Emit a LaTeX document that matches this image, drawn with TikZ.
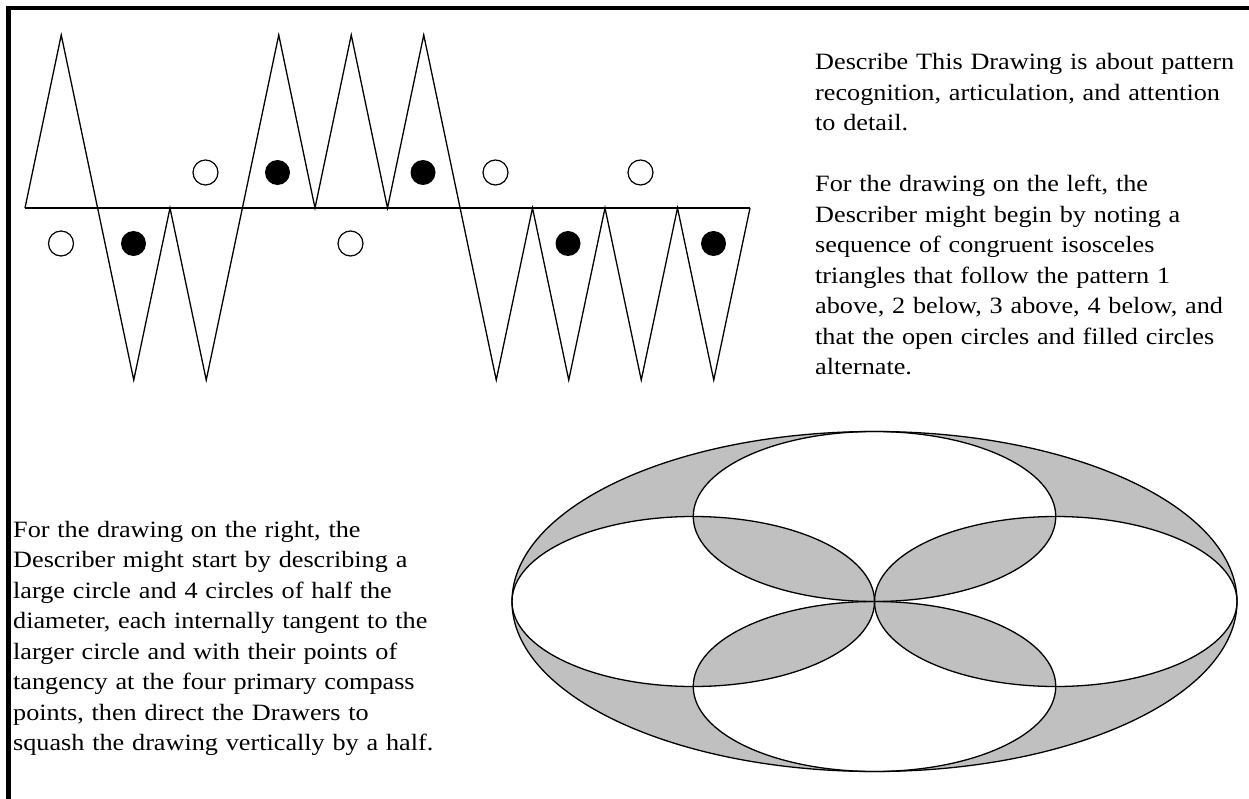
\documentclass[tikz,border=0pt]{standalone}
\usepackage{fontspec}
\setmainfont{Liberation Serif}[FakeStretch=1.12]
\definecolor{lensgray}{RGB}{192,192,192}

\begin{document}
\begin{tikzpicture}[
    x=1pt, y=-1pt,
    zig/.style={line width=1.3pt, line join=miter},
    opendot/.style={circle, draw, line width=1.2pt, minimum size=25pt, inner sep=0pt},
    filldot/.style={circle, fill=black, minimum size=25pt, inner sep=0pt},
    para/.style={anchor=base west, text width=430pt, align=left, inner sep=0pt,
                 font=\fontsize{23.4}{30.5}\selectfont},
    outline/.style={line width=1.3pt}
]
\useasboundingbox (0,0) rectangle (1249,799);

% Frame (top and left only)
\draw[line width=4.5pt] (8.5,799) -- (8.5,8) -- (1249,8);

% Triangles: base line and zigzag
\draw[zig] (25,208) -- (750,208);
\draw[zig] (25,208) -- (61.25,35) -- (133.75,380) -- (170,208) -- (206.25,380)
    -- (278.75,35) -- (315,208) -- (351.25,35) -- (387.5,208) -- (423.75,35)
    -- (496.25,380) -- (532.5,208) -- (568.75,380) -- (605,208) -- (641.25,380)
    -- (677.5,208) -- (713.75,380) -- (750,208);

% Circles above the base line
\node[opendot] (a1) at (205.5,172.5) {};
\node[filldot] (a2) at (277.5,172.5) {};
\node[filldot] (a3) at (423,172.5) {};
\node[opendot] (a4) at (495.5,172.5) {};
\node[opendot] (a5) at (640.5,172.5) {};

% Circles below the base line
\node[opendot] (b1) at (61,243.5) {};
\node[filldot] (b2) at (133.5,243.5) {};
\node[opendot] (b3) at (350.5,243.5) {};
\node[filldot] (b4) at (568,243.5) {};
\node[filldot] (b5) at (713.5,243.5) {};

% Squashed circles: shading by even-odd rule
\path[fill=lensgray, even odd rule]
    (874.5,601.5) ellipse [x radius=362.5, y radius=170]
    (874.5,516.5) ellipse [x radius=181.25, y radius=85]
    (874.5,686.5) ellipse [x radius=181.25, y radius=85]
    (693.25,601.5) ellipse [x radius=181.25, y radius=85]
    (1055.75,601.5) ellipse [x radius=181.25, y radius=85];
\draw[outline] (874.5,601.5) ellipse [x radius=362.5, y radius=170];
\draw[outline] (874.5,516.5) ellipse [x radius=181.25, y radius=85];
\draw[outline] (874.5,686.5) ellipse [x radius=181.25, y radius=85];
\draw[outline] (693.25,601.5) ellipse [x radius=181.25, y radius=85];
\draw[outline] (1055.75,601.5) ellipse [x radius=181.25, y radius=85];

% Text
\node[para] (intro) at (815,70) {Describe This Drawing is about pattern\\
    recognition, articulation, and attention\\
    to detail.};
\node[para] (leftnote) at (815,192) {For the drawing on the left, the\\
    Describer might begin by noting a\\
    sequence of congruent isosceles\\
    triangles that follow the pattern 1\\
    above, 2 below, 3 above, 4 below, and\\
    that the open circles and filled circles\\
    alternate.};
\node[para] (rightnote) at (13,537) {For the drawing on the right, the\\
    Describer might start by describing a\\
    large circle and 4 circles of half the\\
    diameter, each internally tangent to the\\
    larger circle and with their points of\\
    tangency at the four primary compass\\
    points, then direct the Drawers to\\
    squash the drawing vertically by a half.};

\end{tikzpicture}
\end{document}
